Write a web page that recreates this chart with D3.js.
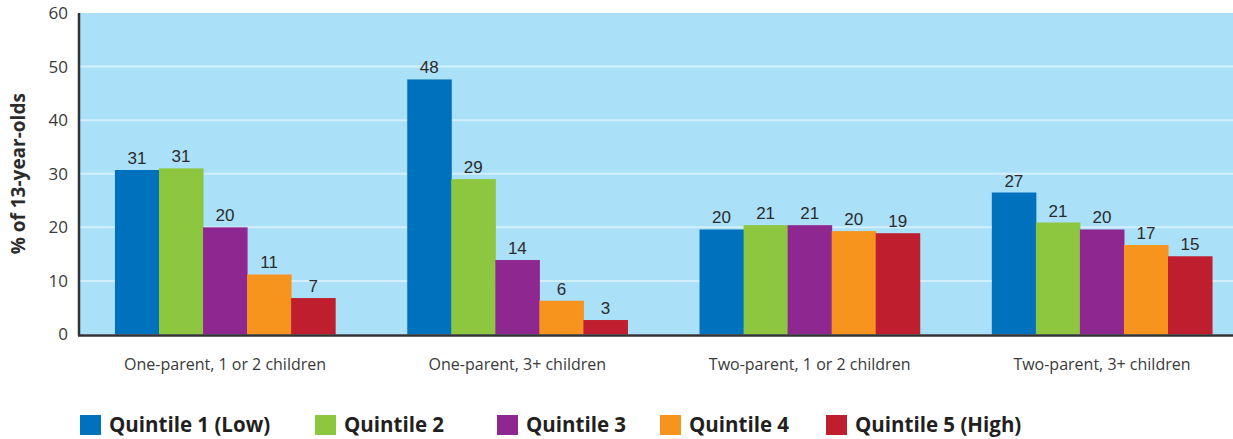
<!DOCTYPE html>
<html>
<head>
<meta charset="utf-8">
<script src="https://cdn.jsdelivr.net/npm/d3@7"></script>
<style>
  body { margin: 0; background: #fff; }
  svg { display: block; }
</style>
</head>
<body>
<svg id="chart" width="1233" height="439"></svg>
<script>
const categories = [
  "One-parent, 1 or 2 children",
  "One-parent, 3+ children",
  "Two-parent, 1 or 2 children",
  "Two-parent, 3+ children"
];
const quintiles = ["Quintile 1 (Low)", "Quintile 2", "Quintile 3", "Quintile 4", "Quintile 5 (High)"];
const colors = ["#0071bc", "#8dc63f", "#8e278f", "#f7941e", "#be1e2d"];

// bar heights per quintile, one value per category
const q1 = [30.7, 47.6, 19.6, 26.5];
const q2 = [31.0, 29.0, 20.4, 20.9];
const q3 = [20.0, 13.9, 20.4, 19.6];
const q4 = [11.2, 6.3, 19.3, 16.7];
const q5 = [6.8, 2.7, 18.9, 14.6];
// printed labels
const l1 = [31, 48, 20, 27];
const l2 = [31, 29, 21, 21];
const l3 = [20, 14, 21, 20];
const l4 = [11, 6, 20, 17];
const l5 = [7, 3, 19, 15];
const yTicks = [0, 10, 20, 30, 40, 50, 60];

const series = [q1, q2, q3, q4, q5];
const labels = [l1, l2, l3, l4, l5];

const svg = d3.select("#chart");
const plotLeft = 79, plotRight = 1233, plotTop = 13, plotBottom = 334.5;

const x0 = d3.scaleBand()
  .domain(categories)
  .range([plotLeft, 1248])
  .paddingInner(0.2466)
  .paddingOuter(0.123);

const x1 = d3.scaleBand()
  .domain(d3.range(quintiles.length))
  .range([0, x0.bandwidth()]);

const y = d3.scaleLinear().domain([0, 60]).range([plotBottom, plotTop]);

// plot background
svg.append("rect")
  .attr("x", plotLeft).attr("y", plotTop)
  .attr("width", plotRight - plotLeft).attr("height", plotBottom - plotTop)
  .attr("fill", "#abe0f9");

// gridlines
svg.append("g")
  .selectAll("line")
  .data(yTicks.slice(1, -1))
  .join("line")
  .attr("x1", plotLeft).attr("x2", plotRight)
  .attr("y1", d => y(d)).attr("y2", d => y(d))
  .attr("stroke", "#d4effc")
  .attr("stroke-width", 2);

// bars
const groups = svg.append("g")
  .selectAll("g")
  .data(categories)
  .join("g")
  .attr("transform", d => `translate(${x0(d)},0)`);

const cells = groups.selectAll("g")
  .data((d, ci) => series.map((s, qi) => ({ qi: qi, v: s[ci], lab: labels[qi][ci] })))
  .join("g");

cells.append("rect")
  .attr("x", d => x1(d.qi))
  .attr("width", x1.bandwidth() + 0.5)
  .attr("y", d => y(d.v))
  .attr("height", d => y(0) - y(d.v))
  .attr("fill", d => colors[d.qi]);

cells.append("text")
  .attr("x", d => x1(d.qi) + x1.bandwidth() / 2)
  .attr("y", d => y(d.v) - 6)
  .attr("text-anchor", "middle")
  .attr("font-family", "'Liberation Sans Narrow', 'Arial Narrow', 'Liberation Sans', Arial, sans-serif")
  .attr("font-size", 17)
  .attr("fill", "#2b2b2b")
  .text(d => d.lab);

// axes
svg.append("line")
  .attr("x1", plotLeft).attr("x2", plotLeft)
  .attr("y1", plotTop).attr("y2", plotBottom + 1)
  .attr("stroke", "#333").attr("stroke-width", 2.5);

svg.append("line")
  .attr("x1", plotLeft - 1).attr("x2", plotRight)
  .attr("y1", plotBottom + 1).attr("y2", plotBottom + 1)
  .attr("stroke", "#333").attr("stroke-width", 2.5);

const yAxis = d3.axisLeft(y).tickValues(yTicks).tickSize(0).tickPadding(11);
svg.append("g")
  .attr("transform", `translate(${plotLeft},0)`)
  .call(yAxis)
  .call(g => g.select(".domain").remove())
  .selectAll("text")
  .attr("font-family", "'Open Sans', 'DejaVu Sans', sans-serif")
  .attr("font-size", 17)
  .attr("fill", "#3a3a3a");

const xAxis = d3.axisBottom(x0).tickSize(0).tickPadding(0);
svg.append("g")
  .attr("transform", `translate(0,${plotBottom + 24})`)
  .call(xAxis)
  .call(g => g.select(".domain").remove())
  .selectAll("text")
  .attr("font-family", "'Open Sans', 'DejaVu Sans', sans-serif")
  .attr("font-size", 16)
  .attr("fill", "#3a3a3a");

svg.append("text")
  .attr("transform", `translate(25,${(plotTop + plotBottom) / 2}) rotate(-90)`)
  .attr("text-anchor", "middle")
  .attr("font-family", "'Open Sans', 'DejaVu Sans', sans-serif")
  .attr("font-weight", "bold")
  .attr("font-size", 19)
  .attr("fill", "#2b2b2b")
  .text("% of 13-year-olds");

// legend
const legendX = [80, 315, 497, 660, 826];
const legend = svg.append("g")
  .selectAll("g")
  .data(quintiles)
  .join("g")
  .attr("transform", (d, i) => `translate(${legendX[i]},415)`);

legend.append("rect")
  .attr("width", 21).attr("height", 20)
  .attr("fill", (d, i) => colors[i]);

legend.append("text")
  .attr("x", 29).attr("y", 17)
  .attr("font-family", "'Open Sans', 'DejaVu Sans', sans-serif")
  .attr("font-weight", "bold")
  .attr("font-size", 20.5)
  .attr("fill", "#231f20")
  .text(d => d);
</script>
</body>
</html>
